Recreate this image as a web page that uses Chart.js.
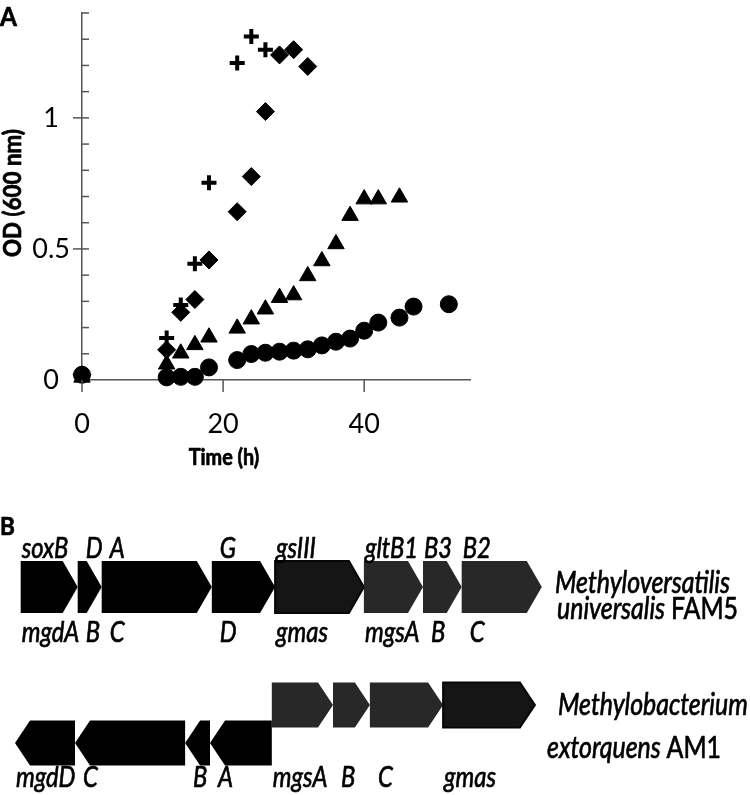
<!DOCTYPE html>
<html>
<head>
<meta charset="utf-8">
<script src="https://cdn.jsdelivr.net/npm/chart.js@4.4.1/dist/chart.umd.min.js"></script>
<style>
  html, body { margin: 0; padding: 0; background: #fff; }
  #wrap { position: relative; width: 750px; height: 795px; }
  #growth { position: absolute; left: 0; top: 0; }
  #genes { position: absolute; left: 0; top: 480px; }
</style>
</head>
<body>
<div id="wrap">
  <canvas id="growth" width="750" height="480" style="width:750px;height:480px"></canvas>
  <canvas id="genes" width="750" height="315" style="width:750px;height:315px"></canvas>
</div>
<script>
// Panel A: growth curves, OD600 vs time (h)
const plusTime = [0, 12, 14, 16, 18, 22, 24, 26];
const plusOD = [0.02, 0.16, 0.286, 0.443, 0.752, 1.209, 1.31, 1.26];

const diamondTime = [0, 12, 14, 16, 18, 22, 24, 26, 28, 30, 32];
const diamondOD = [0.02, 0.115, 0.258, 0.307, 0.458, 0.642, 0.776, 1.024, 1.24, 1.26, 1.196];

const triangleTime = [0, 12, 14, 16, 18, 22, 24, 26, 28, 30, 32, 34, 36, 38, 40, 42, 45];
const triangleOD = [0.01, 0.06, 0.102, 0.134, 0.163, 0.197, 0.232, 0.27, 0.314, 0.324, 0.397, 0.454, 0.519, 0.627, 0.69, 0.69, 0.697];

const circleTime = [0, 12, 14, 16, 18, 22, 24, 26, 28, 30, 32, 34, 36, 38, 40, 42, 45, 47, 52];
const circleOD = [0.02, 0.01, 0.012, 0.012, 0.048, 0.076, 0.099, 0.104, 0.108, 0.112, 0.117, 0.132, 0.146, 0.158, 0.188, 0.219, 0.238, 0.28, 0.289];

const timeTicks = [0, 20, 40];

// Panel B: gene clusters (positions in kb, strand +1 / -1)
const geneTracks = ['Methyloversatilis universalis FAM5', 'Methylobacterium extorquens AM1'];

const fam5Start = [0.69, 2.59, 3.39, 7.06, 9.17, 12.13, 14.10, 15.39];
const fam5End = [2.59, 3.39, 7.06, 9.17, 12.13, 14.10, 15.39, 18.06];
const fam5Strand = [1, 1, 1, 1, 1, 1, 1, 1];
const fam5Family = ['mgd', 'mgd', 'mgd', 'mgd', 'gmas', 'mgs', 'mgs', 'mgs'];
const fam5Upper = ['soxB', 'D', 'A', 'G', 'gsIII', 'gltB1', 'B3', 'B2'];
const fam5Lower = ['mgdA', 'B', 'C', 'D', 'gmas', 'mgsA', 'B', 'C'];

const am1Start = [0.50, 2.50, 6.17, 7.00, 9.06, 11.10, 12.33, 14.77];
const am1End = [2.50, 6.17, 7.00, 9.06, 11.10, 12.33, 14.77, 17.83];
const am1Strand = [-1, -1, -1, -1, 1, 1, 1, 1];
const am1Family = ['mgd', 'mgd', 'mgd', 'mgd', 'mgs', 'mgs', 'mgs', 'gmas'];
const am1Lower = ['mgdD', 'C', 'B', 'A', 'mgsA', 'B', 'C', 'gmas'];

const FONT = "Lato, 'Open Sans', sans-serif";

function pointSet(label, times, values, style, radius, width) {
    return {
        label: label,
        data: times.map((t, i) => ({ x: t, y: values[i] })),
        pointStyle: style,
        pointRadius: radius,
        pointHoverRadius: radius,
        backgroundColor: '#000',
        borderColor: '#000',
        borderWidth: width,
        showLine: false,
        clip: false
    };
}

const isHalf = v => Math.abs(v * 2 - Math.round(v * 2)) < 1e-6;

// text squeezed horizontally (the original uses a condensed face), lightly stroked
function narrowText(ctx, text, x, y, squeeze) {
    ctx.save();
    ctx.translate(x, y);
    ctx.scale(squeeze, 1);
    ctx.strokeStyle = ctx.fillStyle;
    ctx.lineWidth = 0.7;
    ctx.fillText(text, 0, 0);
    ctx.strokeText(text, 0, 0);
    ctx.restore();
    return ctx.measureText(text).width * squeeze;
}

const growthDecor = {
    id: 'growthDecor',
    afterDraw(chart) {
        const { ctx, scales: { x, y } } = chart;
        ctx.save();
        ctx.strokeStyle = '#555';
        ctx.lineWidth = 1.5;
        y.ticks.forEach(t => {
            const py = y.getPixelForValue(t.value);
            if (t.value < 0.01) return;
            ctx.beginPath();
            ctx.moveTo(isHalf(t.value) ? x.left - 9 : x.left, py);
            ctx.lineTo(x.left + 7, py);
            ctx.stroke();
        });
        x.ticks.forEach(t => {
            const px = x.getPixelForValue(t.value);
            ctx.beginPath();
            ctx.moveTo(px, y.bottom);
            ctx.lineTo(px, y.bottom + 12);
            ctx.stroke();
        });
        ctx.fillStyle = '#000';
        ctx.textBaseline = 'alphabetic';
        ctx.textAlign = 'left';
        ctx.font = 'bold 27px ' + FONT;
        narrowText(ctx, 'A', 0, 26, 0.9);
        ctx.textAlign = 'center';
        ctx.font = 'bold 22px ' + FONT;
        narrowText(ctx, 'Time (h)', 224, 465, 0.9);
        ctx.save();
        ctx.translate(21, 193);
        ctx.rotate(-Math.PI / 2);
        ctx.font = 'bold 24px ' + FONT;
        narrowText(ctx, 'OD (600 nm)', 0, 0, 0.93);
        ctx.restore();
        ctx.restore();
    }
};

new Chart(document.getElementById('growth').getContext('2d'), {
    type: 'scatter',
    data: {
        datasets: [
            pointSet('plus', plusTime, plusOD, 'cross', 7.5, 4),
            pointSet('diamond', diamondTime, diamondOD, 'rectRot', 9, 1),
            pointSet('triangle', triangleTime, triangleOD, 'triangle', 9.5, 1),
            pointSet('circle', circleTime, circleOD, 'circle', 8.5, 1)
        ]
    },
    options: {
        responsive: false,
        animation: false,
        layout: { padding: { left: 0, right: 280, top: 13, bottom: 0 } },
        plugins: {
            legend: { display: false },
            tooltip: { enabled: false }
        },
        scales: {
            x: {
                type: 'linear',
                min: 0,
                max: 55,
                afterBuildTicks: scale => { scale.ticks = timeTicks.map(v => ({ value: v })); },
                afterFit: scale => { scale.height = 100; scale.paddingLeft = 0; scale.paddingRight = 0; },
                grid: { display: false, drawTicks: false },
                border: { color: '#555', width: 1.5 },
                ticks: { color: '#000', font: { family: FONT, size: 27 }, padding: 28 }
            },
            y: {
                type: 'linear',
                min: 0,
                max: 1.4,
                afterFit: scale => { scale.width = 82; scale.paddingTop = 0; scale.paddingBottom = 0; },
                grid: { display: false, drawTicks: false },
                border: { color: '#555', width: 1.5 },
                ticks: {
                    stepSize: 0.1,
                    autoSkip: false,
                    color: '#000',
                    font: { family: FONT, size: 27 },
                    padding: 12,
                    crossAlign: 'center',
                    callback: v => isHalf(v) && v < 1.2 ? String(Math.round(v * 10) / 10) : ''
                }
            }
        }
    },
    plugins: [growthDecor]
});

// gene arrows drawn from the bar elements' own geometry
const trackStrand = [fam5Strand, am1Strand];
const trackFamily = [fam5Family, am1Family];
const trackUpper = [fam5Upper, []];
const trackLower = [fam5Lower, am1Lower];
const familyFill = { mgd: '#000', gmas: '#151515', mgs: '#282828' };
const familyStroke = { mgd: null, gmas: '#060606', mgs: null };
const trackHeight = [52, 45];
const strandShift = [0, 19];
const lowerBase = [55, 63];
const speciesLines = [
    [['Methyloversatilis', ''], ['universalis ', 'FAM5']],
    [['Methylobacterium', ''], ['extorquens ', 'AM1']]
];
const speciesX = [[555, 557], [558, 547]];
const speciesY = [[6, 32], [-9, 34]];
const HEAD = 15;

function arrowPath(ctx, x0, x1, yc, h, dir) {
    const hl = Math.min(HEAD, x1 - x0);
    ctx.beginPath();
    if (dir > 0) {
        ctx.moveTo(x0, yc - h / 2);
        ctx.lineTo(x1 - hl, yc - h / 2);
        ctx.lineTo(x1, yc);
        ctx.lineTo(x1 - hl, yc + h / 2);
        ctx.lineTo(x0, yc + h / 2);
    } else {
        ctx.moveTo(x1, yc - h / 2);
        ctx.lineTo(x0 + hl, yc - h / 2);
        ctx.lineTo(x0, yc);
        ctx.lineTo(x0 + hl, yc + h / 2);
        ctx.lineTo(x1, yc + h / 2);
    }
    ctx.closePath();
}

const geneArrows = {
    id: 'geneArrows',
    afterDatasetsDraw(chart) {
        const ctx = chart.ctx;
        ctx.save();
        chart.data.datasets.forEach((ds, d) => {
            const meta = chart.getDatasetMeta(d);
            const h = trackHeight[d];
            const mixed = trackStrand[d].some(s => s < 0) && trackStrand[d].some(s => s > 0);
            meta.data.forEach((el, i) => {
                const x0 = Math.min(el.x, el.base);
                const x1 = Math.max(el.x, el.base);
                const dir = trackStrand[d][i];
                const yc = el.y + (mixed ? (dir > 0 ? -strandShift[d] : strandShift[d]) : 0);
                const fam = trackFamily[d][i];
                arrowPath(ctx, x0, x1, yc, h, dir);
                ctx.fillStyle = familyFill[fam];
                ctx.fill();
                if (familyStroke[fam]) {
                    ctx.strokeStyle = familyStroke[fam];
                    ctx.lineWidth = 2;
                    ctx.stroke();
                }
                ctx.fillStyle = '#000';
                ctx.textAlign = 'left';
                ctx.textBaseline = 'alphabetic';
                ctx.font = 'italic 28px ' + FONT;
                const up = trackUpper[d][i];
                if (up) narrowText(ctx, up, x0 + (up.length === 1 ? 8 : 1), el.y - h / 2 - 3, 0.85);
                const lo = trackLower[d][i];
                if (lo) narrowText(ctx, lo, x0 + (lo.length === 1 ? 8 : 1), el.y + lowerBase[d], 0.85);
            });
            const yc = chart.scales.y.getPixelForValue(d);
            speciesLines[d].forEach((line, k) => {
                let px = speciesX[d][k];
                const py = yc + speciesY[d][k];
                ctx.font = 'italic 30px ' + FONT;
                px += narrowText(ctx, line[0], px, py, 0.83);
                ctx.font = '30px ' + FONT;
                narrowText(ctx, line[1], px, py, 0.83);
            });
        });
        ctx.font = 'bold 25px ' + FONT;
        narrowText(ctx, 'B', 0, 55, 0.9);
        ctx.restore();
    }
};

function trackData(track, starts, ends) {
    return starts.map((s, i) => ({ x: [s, ends[i]], y: track }));
}

function trackSet(track, starts, ends) {
    return {
        label: track,
        data: trackData(track, starts, ends),
        backgroundColor: 'rgba(0,0,0,0)',
        borderColor: 'rgba(0,0,0,0)',
        borderWidth: 0,
        grouped: false,
        barThickness: 40
    };
}

new Chart(document.getElementById('genes').getContext('2d'), {
    type: 'bar',
    data: {
        labels: geneTracks,
        datasets: [
            trackSet(geneTracks[0], fam5Start, fam5End),
            trackSet(geneTracks[1], am1Start, am1End)
        ]
    },
    options: {
        indexAxis: 'y',
        responsive: false,
        animation: false,
        layout: { padding: { left: 0, right: 0, top: 38.5, bottom: 2.5 } },
        plugins: {
            legend: { display: false },
            tooltip: { enabled: false }
        },
        scales: {
            x: { type: 'linear', min: 0, max: 25, display: false },
            y: { type: 'category', offset: true, display: false }
        }
    },
    plugins: [geneArrows]
});
</script>
</body>
</html>
